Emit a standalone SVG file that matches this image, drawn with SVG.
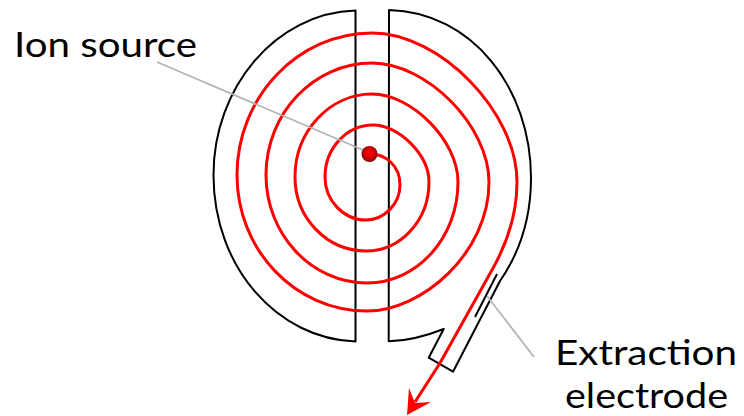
<svg xmlns="http://www.w3.org/2000/svg" width="744" height="416" viewBox="0 0 744 416">
  <defs>
    <radialGradient id="ball" cx="50%" cy="45%" r="55%">
      <stop offset="0" stop-color="#ff0000"/>
      <stop offset="0.5" stop-color="#e00000"/>
      <stop offset="1" stop-color="#7a0a0a"/>
    </radialGradient>
  </defs>
  <style>
    .k{fill:none;stroke:#000;stroke-width:2;stroke-linejoin:round}
    .g{fill:none;stroke:#b3b3b3;stroke-width:1.7}
    .r{fill:none;stroke:#ff0000;stroke-width:3;stroke-linejoin:round}
    text{font-family:"Lato","Noto Sans",sans-serif;font-size:34px;fill:#000}
  </style>
  <rect width="744" height="416" fill="#fff"/>
  <g id="left-dee"><path class="k" d="M355.5,10.5 C275,13 213.5,88 213.5,175 C213.5,268 278,339 355.5,341.5 Z"/></g>
  <g id="right-dee"><path class="k" d="M389,10 C472,12 531,88 531,178 C531,216 520,252 500,281 L453,371.7 L428.7,357.7 L443.7,329 C426,336 408,341 388.7,341.3 Z"/></g>
  <g id="connectors">
    <path class="r" d="M370,154 C385,154 400,165 400,185 C400,204 384,220 366,220 C343,220 325,200 325,177 C325,148 347,125 373,125 C399,125 429,155 429,182 C429,220 401,251 366,251 C327,251 295,218 295,177 C295,131 330,94 372,94 C412,94 458,141 458,182 C458,238 417,283 367,283 C311,283 266,234 266,175 C266,113 314,63 372,63 C427,63 489,126 489,182 C489,253 422,311 367,311 C295,311 237,250 237,175 C237,97 298,33 372,33 C440,33 517,112 517,182 C517,210 509,240 492,270 L440,363 L415,402"/>
    <polygon points="407,415 409,388 415,403 431,402" fill="#ff0000"/>
    <path class="g" d="M157,62 L363,150"/>
    <path class="g" d="M487,296 L534,357"/>
  </g>
  <g id="extraction-electrode"><path class="k" d="M475,317 L497,274"/>
    <text x="555" y="365" textLength="182" lengthAdjust="spacingAndGlyphs">Extraction</text>
    <text x="565" y="408" textLength="163" lengthAdjust="spacingAndGlyphs">electrode</text>
  </g>
  <g id="ion-source">
    <circle cx="369.5" cy="154" r="8" fill="url(#ball)"/>
    <text x="14" y="57" textLength="183" lengthAdjust="spacingAndGlyphs">Ion source</text>
  </g>
</svg>
